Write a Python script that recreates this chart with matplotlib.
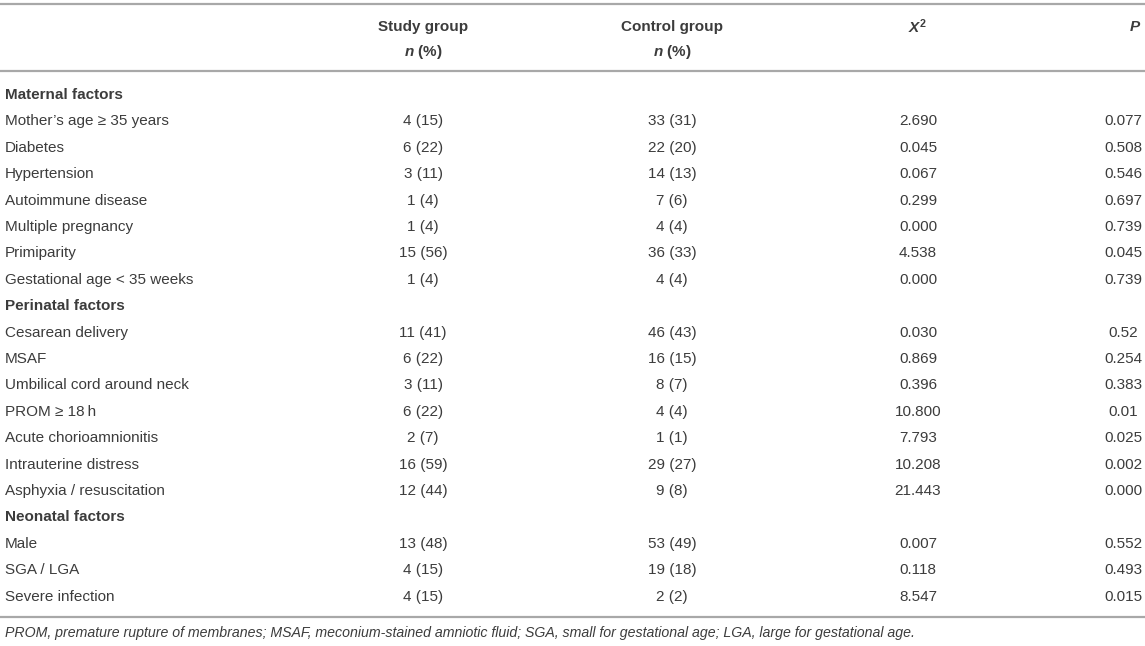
import matplotlib
matplotlib.use("Agg")
import matplotlib.pyplot as plt
from matplotlib.lines import Line2D

plt.rcParams['font.family'] = ['Liberation Sans', 'DejaVu Sans']
plt.rcParams['mathtext.fontset'] = 'custom'
plt.rcParams['mathtext.it'] = 'Liberation Sans:italic:bold'
plt.rcParams['mathtext.rm'] = 'Liberation Sans:bold'
plt.rcParams['mathtext.bf'] = 'Liberation Sans:bold'

# table data
sections = ["Maternal factors", "Perinatal factors", "Neonatal factors"]
maternal_rows = ["Mother\u2019s age \u2265 35 years", "Diabetes", "Hypertension",
                 "Autoimmune disease", "Multiple pregnancy", "Primiparity",
                 "Gestational age < 35 weeks"]
perinatal_rows = ["Cesarean delivery", "MSAF", "Umbilical cord around neck",
                  "PROM \u2265 18\u2009h", "Acute chorioamnionitis",
                  "Intrauterine distress", "Asphyxia / resuscitation"]
neonatal_rows = ["Male", "SGA / LGA", "Severe infection"]

study_group = ["4 (15)", "6 (22)", "3 (11)", "1 (4)", "1 (4)", "15 (56)", "1 (4)",
               "11 (41)", "6 (22)", "3 (11)", "6 (22)", "2 (7)", "16 (59)", "12 (44)",
               "13 (48)", "4 (15)", "4 (15)"]
control_group = ["33 (31)", "22 (20)", "14 (13)", "7 (6)", "4 (4)", "36 (33)", "4 (4)",
                 "46 (43)", "16 (15)", "8 (7)", "4 (4)", "1 (1)", "29 (27)", "9 (8)",
                 "53 (49)", "19 (18)", "2 (2)"]
chi2 = ["2.690", "0.045", "0.067", "0.299", "0.000", "4.538", "0.000",
        "0.030", "0.869", "0.396", "10.800", "7.793", "10.208", "21.443",
        "0.007", "0.118", "8.547"]
p_values = ["0.077", "0.508", "0.546", "0.697", "0.739", "0.045", "0.739",
            "0.52", "0.254", "0.383", "0.01", "0.025", "0.002", "0.000",
            "0.552", "0.493", "0.015"]

footnote = ("PROM, premature rupture of membranes; MSAF, meconium-stained amniotic fluid; "
            "SGA, small for gestational age; LGA, large for gestational age.")

W, H = 1145, 646
fig = plt.figure(figsize=(W / 100, H / 100), dpi=100)
ax = fig.add_axes([0, 0, 1, 1])
ax.set_xlim(0, W)
ax.set_ylim(H, 0)
ax.axis('off')

txt = '#3c3c3c'
rule = '#a8a8a8'
fs = 11

x_label = 5
x_study = 423
x_ctrl = 672
x_chi = 918
x_p = 1123

# header
ax.add_line(Line2D([0, W], [4, 4], color=rule, lw=1.6))
ax.text(x_study, 27, "Study group", ha='center', va='center', fontsize=fs, fontweight='bold', color=txt)
ax.text(x_study, 52, "$n$ (%)", ha='center', va='center', fontsize=fs, fontweight='bold', color=txt)
ax.text(x_ctrl, 27, "Control group", ha='center', va='center', fontsize=fs, fontweight='bold', color=txt)
ax.text(x_ctrl, 52, "$n$ (%)", ha='center', va='center', fontsize=fs, fontweight='bold', color=txt)
ax.text(x_chi, 27, "$X^2$", ha='center', va='center', fontsize=fs, fontweight='bold', color=txt)
ax.text(1141, 27, "$P$", ha='right', va='center', fontsize=fs, fontweight='bold', color=txt)
ax.add_line(Line2D([0, W], [71, 71], color=rule, lw=1.6))

# body
y0 = 95
step = 26.4
row = 0
k = 0
for name, rows in zip(sections, [maternal_rows, perinatal_rows, neonatal_rows]):
    y = y0 + row * step
    ax.text(x_label, y, name, ha='left', va='center', fontsize=fs, fontweight='bold', color=txt)
    row += 1
    for lab in rows:
        y = y0 + row * step
        ax.text(x_label, y, lab, ha='left', va='center', fontsize=fs, color=txt)
        ax.text(x_study, y, study_group[k], ha='center', va='center', fontsize=fs, color=txt)
        ax.text(x_ctrl, y, control_group[k], ha='center', va='center', fontsize=fs, color=txt)
        ax.text(x_chi, y, chi2[k], ha='center', va='center', fontsize=fs, color=txt)
        ax.text(x_p, y, p_values[k], ha='center', va='center', fontsize=fs, color=txt)
        row += 1
        k += 1

ax.add_line(Line2D([0, W], [617, 617], color=rule, lw=1.6))
ax.text(x_label, 633, footnote, ha='left', va='center', fontsize=10.2, style='italic', color=txt)

fig.savefig('out.png', dpi=100)
